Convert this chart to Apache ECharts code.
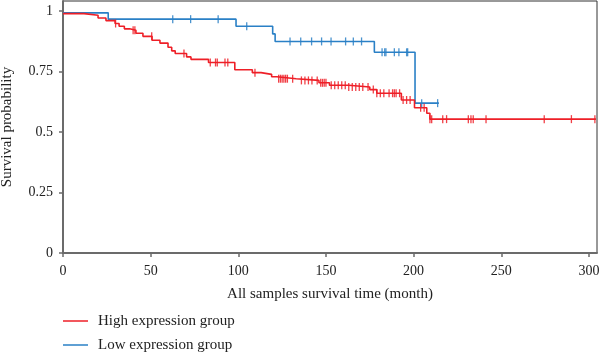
<!DOCTYPE html>
<html>
<head>
<meta charset="utf-8">
<script src="https://cdn.jsdelivr.net/npm/echarts@6/dist/echarts.min.js"></script>
<style>html,body{margin:0;padding:0;background:#fff}#c{width:600px;height:355px}</style>
</head>
<body>
<div id="c"></div>
<script>
// Kaplan-Meier step points (time in months, survival probability)
const highTimes = [0, 12, 20, 24.5, 29.7, 32, 35, 38, 41.6, 45.6, 50.8, 55.3, 59.9, 62, 64, 70.5, 73, 83, 98, 108, 113, 119, 122, 133, 146, 152, 163, 175, 179, 193, 200.5, 207.5, 209.3, 304];
const highSurv  = [0.989, 0.982, 0.971, 0.96, 0.948, 0.937, 0.926, 0.92, 0.908, 0.895, 0.879, 0.867, 0.85, 0.835, 0.824, 0.81, 0.8, 0.787, 0.757, 0.745, 0.738, 0.728, 0.72, 0.713, 0.703, 0.693, 0.686, 0.675, 0.66, 0.632, 0.6, 0.577, 0.553, 0.553];
const highCensor = [30, 40, 41, 50.6, 69, 84, 87, 88, 92.4, 94, 109.5, 123, 124, 125, 126, 127, 128, 131, 136, 138, 140, 142, 145, 147, 148, 149, 150, 153, 155, 157, 159, 161, 163, 165, 167, 169, 171, 174, 177, 179, 181, 183, 186, 188, 189, 190, 192, 194, 196, 198, 204, 206, 209.3, 210.3, 216.6, 218.8, 231.2, 232.7, 234, 241.3, 274.5, 290, 303.4];

const lowTimes = [0, 25.8, 98.7, 119.6, 121, 177.6, 200.8, 214.4];
const lowSurv  = [0.992, 0.966, 0.937, 0.905, 0.874, 0.829, 0.619, 0.619];
const lowCensor = [62.6, 72.8, 88.5, 104.8, 129.5, 135.6, 141.8, 147.5, 152.9, 161.2, 165.6, 170.3, 182, 183.5, 184.2, 189, 191.6, 196, 196.6, 204.6, 213.7];

const xTicks = [0, 50, 100, 150, 200, 250, 300];
const yTicks = [0, 0.25, 0.5, 0.75, 1];
const seriesNames = ['High expression group', 'Low expression group'];

const RED = '#ee1f27', BLUE = '#2a80c6';
const FONT = 'Liberation Serif';

function stepAt(times, surv, t) {
  let v = surv[0];
  for (let i = 0; i < times.length; i++) { if (times[i] <= t) v = surv[i]; }
  return v;
}
const pairs = (ts, ss) => ts.map((t, i) => [t, ss[i]]);
const censorPts = (cs, ts, ss) => cs.map(t => [t, stepAt(ts, ss, t)]);

const chart = echarts.init(document.getElementById('c'), null, {renderer: 'canvas'});
chart.setOption({
  animation: false,
  backgroundColor: '#fff',
  textStyle: {fontFamily: FONT},
  grid: {left: 63, right: 3, top: 1, bottom: 102, show: true, borderColor: '#333', borderWidth: 1, outerBoundsMode: 'none', containLabel: false},
  xAxis: {
    type: 'value', min: 0, max: 304.6,
    name: 'All samples survival time (month)', nameLocation: 'middle', nameGap: 34,
    nameTextStyle: {fontFamily: FONT, fontSize: 15, color: '#222'},
    axisLine: {onZero: false, lineStyle: {color: '#6b6b6b', width: 2}},
    axisTick: {customValues: xTicks, length: 4, lineStyle: {color: '#6b6b6b', width: 1.5}},
    axisLabel: {customValues: xTicks, margin: 11, fontFamily: FONT, fontSize: 14, color: '#222'},
    splitLine: {show: false}
  },
  yAxis: {
    type: 'value', min: 0, max: 1.041,
    name: 'Survival probability', nameLocation: 'middle', nameGap: 48,
    nameTextStyle: {fontFamily: FONT, fontSize: 15, color: '#222'},
    axisLine: {onZero: false, lineStyle: {color: '#6b6b6b', width: 2}},
    axisTick: {customValues: yTicks, length: 4, lineStyle: {color: '#6b6b6b', width: 1.5}},
    axisLabel: {customValues: yTicks, margin: 10, fontFamily: FONT, fontSize: 14, color: '#222'},
    splitLine: {show: false}
  },
  legend: {
    data: seriesNames, orient: 'vertical', left: 63, top: 313, padding: 0, height: 60,
    icon: 'rect', itemWidth: 25, itemHeight: 1.5, itemGap: 8,
    textStyle: {fontFamily: FONT, fontSize: 15, color: '#222', padding: [0, 0, 0, 5], lineHeight: 16},
    selectedMode: false
  },
  series: [
    {name: seriesNames[0], type: 'line', step: 'end', data: pairs(highTimes, highSurv), showSymbol: false, color: RED, lineStyle: {color: RED, width: 1.6}, z: 3},
    {name: seriesNames[1], type: 'line', step: 'end', data: pairs(lowTimes, lowSurv), showSymbol: false, color: BLUE, lineStyle: {color: BLUE, width: 1.6}, z: 2},
    {name: 'high-censor', type: 'scatter', data: censorPts(highCensor, highTimes, highSurv), symbol: 'rect', symbolSize: [1.3, 8], itemStyle: {color: RED, opacity: 0.85}, z: 4},
    {name: 'low-censor', type: 'scatter', data: censorPts(lowCensor, lowTimes, lowSurv), symbol: 'rect', symbolSize: [1.3, 8], itemStyle: {color: BLUE, opacity: 0.85}, z: 4}
  ]
});
</script>
</body>
</html>
